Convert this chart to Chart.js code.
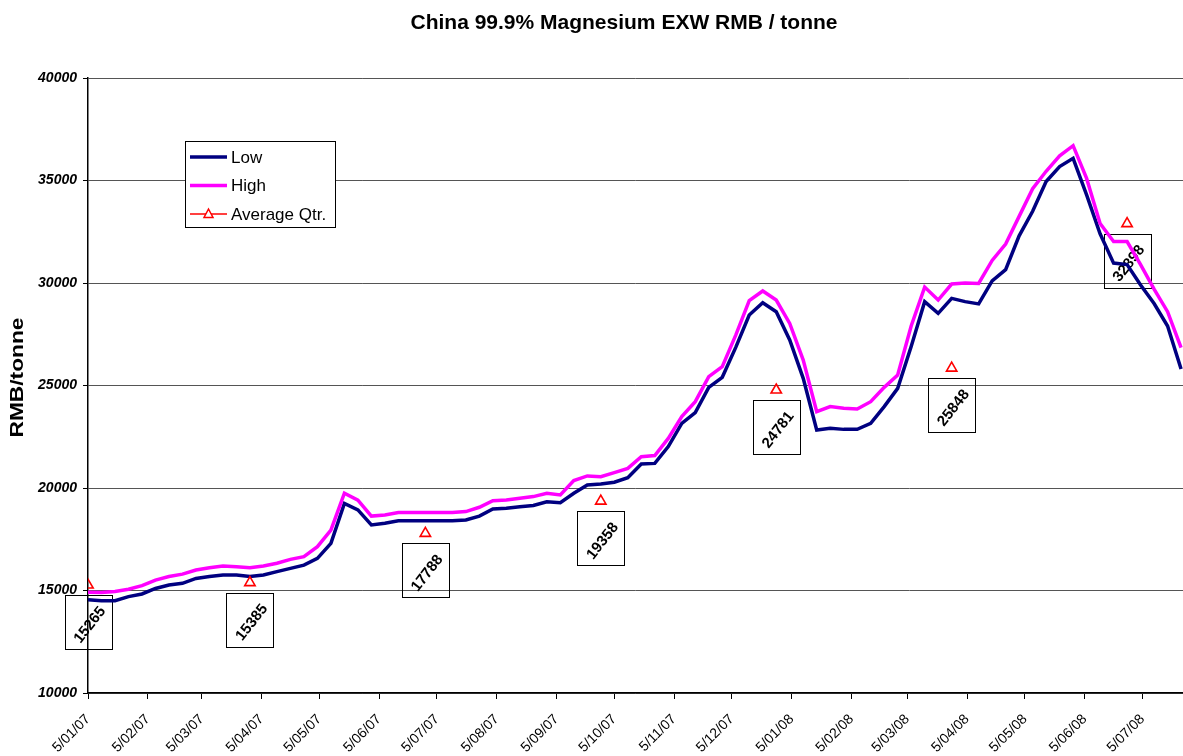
<!DOCTYPE html>
<html><head><meta charset="utf-8">
<script src="https://cdn.jsdelivr.net/npm/chart.js@4"></script>
<style>html,body{margin:0;padding:0;background:#fff}#wrap{width:1183px;height:756px;position:relative}</style>
</head><body><div id="wrap"><canvas id="c" width="1183" height="756"></canvas></div>
<script>
const chartTitle = 'China 99.9% Magnesium EXW RMB / tonne';
const yAxisTitle = 'RMB/tonne';
const seriesNames = ['Low', 'High', 'Average Qtr.'];
const firstWeek = '2007-01-05';
const lastDay = '2008-07-26';
const lowValues = [14550,14500,14500,14700,14830,15100,15270,15350,15590,15680,
  15760,15760,15680,15760,15920,16080,16240,16570,17300,19250,
  18930,18200,18280,18400,18400,18400,18400,18400,18440,18630,
  18980,19010,19090,19150,19330,19280,19740,20150,20200,20280,
  20500,21170,21200,22020,23150,23680,24910,25400,26860,28440,
  29040,28600,27220,25350,22830,22910,22860,22860,23150,23970,
  24860,26900,29090,28520,29250,29090,28980,30100,30650,32300,
  33500,34950,35680,36080,34300,32400,30970,30900,29900,29000,
  27900,25800];
const highValues = [14920,14900,14950,15060,15240,15510,15680,15800,16000,16110,
  16200,16160,16110,16200,16330,16520,16650,17140,17950,19750,
  19410,18630,18680,18800,18800,18800,18800,18800,18850,19060,
  19380,19410,19500,19580,19740,19660,20360,20590,20550,20750,
  20960,21530,21580,22420,23480,24210,25430,25920,27460,29140,
  29610,29170,28030,26240,23720,23970,23890,23850,24210,24910,
  25510,27900,29800,29170,29950,30000,29980,31100,31900,33250,
  34600,35450,36200,36700,35100,32900,32020,32020,30900,29700,
  28600,26850];
const avgDates = ['2007-01-05','2007-03-30','2007-06-29','2007-09-28','2007-12-28','2008-03-28','2008-06-27'];
const avgValues = [15265, 15385, 17788, 19358, 24781, 25848, 32898];
const tickLabels = ['5/01/07','5/02/07','5/03/07','5/04/07','5/05/07','5/06/07','5/07/07','5/08/07','5/09/07','5/10/07','5/11/07','5/12/07',
  '5/01/08','5/02/08','5/03/08','5/04/08','5/05/08','5/06/08','5/07/08'];
const yMin = 10000, yMax = 40000, yStep = 5000;

const DAY = 86400000;
const t0 = Date.parse(firstWeek + 'T00:00:00Z');
function dayOfIso(s) { return (Date.parse(s + 'T00:00:00Z') - t0) / DAY; }
function dayOfLabel(s) {
  const p = s.split('/');
  return (Date.UTC(2000 + (+p[2]), (+p[1]) - 1, +p[0]) - t0) / DAY;
}
const tickDays = tickLabels.map(dayOfLabel);
const lowData = lowValues.map((v, i) => ({x: i * 7, y: v}));
const highData = highValues.map((v, i) => ({x: i * 7, y: v}));
const avgData = avgValues.map((v, i) => ({x: dayOfIso(avgDates[i]), y: v}));

const FONT = '"Liberation Sans", Arial, Helvetica, sans-serif';
Chart.defaults.font.family = FONT;
Chart.defaults.color = '#000';

const decor = {
  id: 'decor',
  beforeDatasetsDraw(chart) {
    const ctx = chart.ctx;
    const meta = chart.getDatasetMeta(2);
    ctx.save();
    meta.data.forEach((pt, i) => {
      const px = pt.x, py = pt.y;
      const bx = Math.round(px - 23.5) + 0.5, by = Math.round(py + 10) + 0.5;
      ctx.strokeStyle = '#000';
      ctx.lineWidth = 1;
      ctx.strokeRect(bx, by, 47, 54);
      ctx.save();
      ctx.translate(px + 2, py + 10 + 30);
      ctx.rotate(-52 * Math.PI / 180);
      ctx.font = 'bold 15px ' + FONT;
      ctx.fillStyle = '#000';
      ctx.textAlign = 'center';
      ctx.textBaseline = 'middle';
      ctx.fillText(String(avgValues[i]), 0, 0);
      ctx.restore();
    });
    ctx.restore();
  },
  afterDraw(chart) {
    const ctx = chart.ctx;
    const ca = chart.chartArea;
    ctx.save();
    // title
    ctx.font = 'bold 21px ' + FONT;
    ctx.fillStyle = '#000';
    ctx.textAlign = 'center';
    ctx.textBaseline = 'alphabetic';
    ctx.fillText(chartTitle, 624, 29);
    // y axis title
    ctx.save();
    ctx.translate(18, (ca.top + ca.bottom) / 2 - 8);
    ctx.rotate(-Math.PI / 2);
    ctx.font = 'bold 18px ' + FONT;
    const w = ctx.measureText(yAxisTitle).width;
    ctx.scale(120 / w, 1);
    ctx.textAlign = 'center';
    ctx.textBaseline = 'middle';
    ctx.fillText(yAxisTitle, 0, 0);
    ctx.restore();
    // legend
    const lx = ca.left + 97, ly = ca.top + 63, lw = 150, lh = 86;
    ctx.fillStyle = '#fff';
    ctx.fillRect(lx, ly, lw, lh);
    ctx.strokeStyle = '#000';
    ctx.lineWidth = 1;
    ctx.strokeRect(lx + 0.5, ly + 0.5, lw, lh);
    const items = [
      {color: '#000080', width: 3.5, tri: false},
      {color: '#FF00FF', width: 3.5, tri: false},
      {color: '#FF0000', width: 1.5, tri: true}
    ];
    ctx.font = '17px ' + FONT;
    ctx.textAlign = 'left';
    ctx.textBaseline = 'middle';
    items.forEach((it, i) => {
      const yy = ly + 16 + i * 28.5;
      ctx.strokeStyle = it.color;
      ctx.lineWidth = it.width;
      ctx.beginPath();
      ctx.moveTo(lx + 5, yy);
      ctx.lineTo(lx + 42, yy);
      ctx.stroke();
      if (it.tri) {
        ctx.fillStyle = '#fff';
        ctx.lineWidth = 1.5;
        ctx.beginPath();
        ctx.moveTo(lx + 23.5, yy - 5);
        ctx.lineTo(lx + 28, yy + 3.5);
        ctx.lineTo(lx + 19, yy + 3.5);
        ctx.closePath();
        ctx.fill();
        ctx.stroke();
      }
      ctx.fillStyle = '#000';
      ctx.fillText(seriesNames[i], lx + 46, yy + 1);
    });
    ctx.restore();
  }
};

new Chart(document.getElementById('c'), {
  type: 'line',
  data: {
    datasets: [
      {label: seriesNames[0], data: lowData, borderColor: '#000080', borderWidth: 3.5, pointRadius: 0, tension: 0, order: 2, fill: false},
      {label: seriesNames[1], data: highData, borderColor: '#FF00FF', borderWidth: 3.5, pointRadius: 0, tension: 0, order: 1, fill: false},
      {label: seriesNames[2], data: avgData, showLine: false, pointStyle: 'triangle', pointRadius: 6,
       borderColor: '#FF0000', pointBorderColor: '#FF0000', pointBackgroundColor: 'rgba(255,255,255,0)', pointBorderWidth: 1.6, order: 0}
    ]
  },
  options: {
    responsive: false,
    animation: false,
    devicePixelRatio: 1,
    layout: {autoPadding: false, padding: {top: 78, left: 0, right: 0, bottom: 0}},
    plugins: {legend: {display: false}, title: {display: false}, tooltip: {enabled: false}},
    scales: {
      x: {
        type: 'linear',
        min: 0,
        max: dayOfIso(lastDay),
        afterBuildTicks(scale) { scale.ticks = tickDays.map(v => ({value: v})); },
        afterFit(scale) { scale.height = 63; scale.paddingRight = 0; scale.paddingLeft = 0; },
        ticks: {
          autoSkip: false, maxRotation: 45, minRotation: 45, padding: 12,
          font: {size: 14}, color: '#000',
          callback: (v, i) => tickLabels[i]
        },
        grid: {drawOnChartArea: false, drawTicks: true, tickLength: 6, tickColor: '#000'},
        border: {color: '#000', width: 1.5}
      },
      y: {
        min: yMin, max: yMax,
        afterFit(scale) { scale.width = 88; },
        ticks: {stepSize: yStep, padding: 6, font: {size: 14, weight: 'bold', style: 'italic'}, color: '#000',
          callback: v => String(v)},
        grid: {color: '#555', lineWidth: 1, tickLength: 5, tickColor: '#000'},
        border: {color: '#000', width: 1.5}
      }
    }
  },
  plugins: [decor]
});
</script>
</body></html>
